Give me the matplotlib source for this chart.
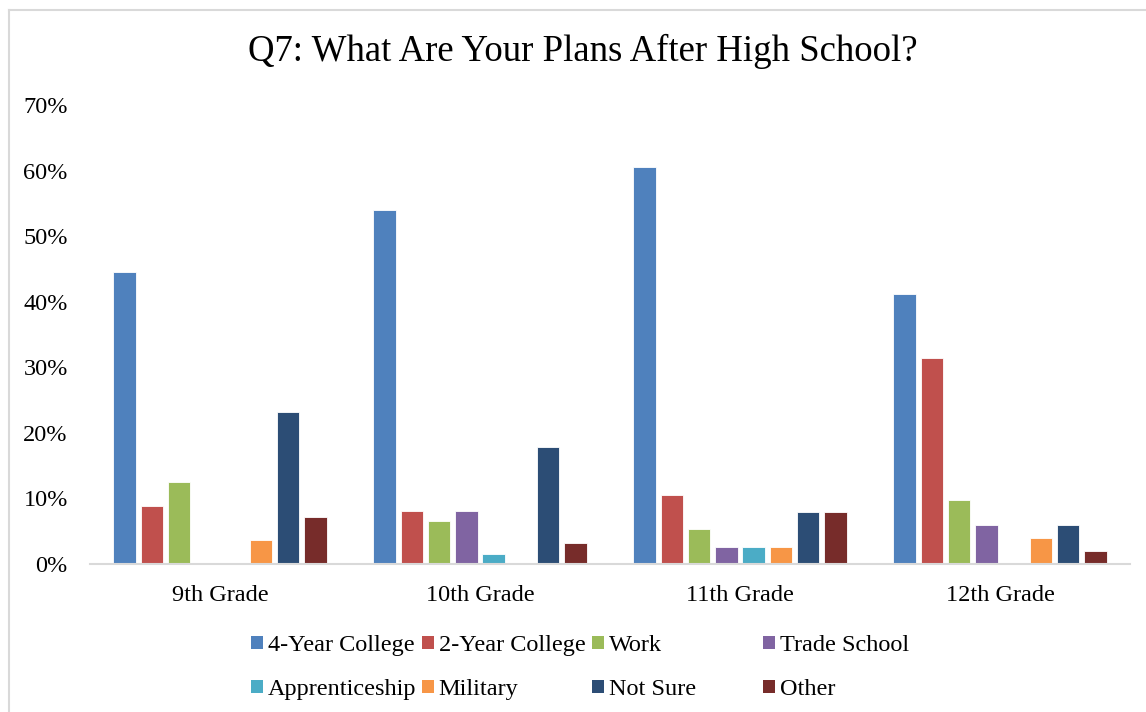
import numpy as np
import matplotlib.pyplot as plt
from matplotlib.patches import Patch
from matplotlib.lines import Line2D

plt.rcParams['font.family'] = ['Liberation Serif', 'DejaVu Serif']

grades = ['9th Grade', '10th Grade', '11th Grade', '12th Grade']
plans = ['4-Year College', '2-Year College', 'Work', 'Trade School',
         'Apprenticeship', 'Military', 'Not Sure', 'Other']
colors = ['#4f81bd', '#c0504d', '#9bbb59', '#8064a2',
          '#4bacc6', '#f79646', '#2c4d75', '#772c2a']

# percent of students per grade
four_year = [44.6, 54.0, 60.5, 41.2]
two_year = [8.9, 8.1, 10.5, 31.4]
work = [12.5, 6.5, 5.3, 9.8]
trade = [0.0, 8.1, 2.6, 5.9]
apprentice = [0.0, 1.6, 2.6, 0.0]
military = [3.6, 0.0, 2.6, 3.9]
not_sure = [23.2, 17.9, 7.9, 5.9]
other = [7.1, 3.2, 7.9, 2.0]
series = [four_year, two_year, work, trade, apprentice, military, not_sure, other]

fig = plt.figure(figsize=(11.46, 7.12), dpi=100)
W, H = 1146, 712
ax = fig.add_axes([90 / W, 1 - 564 / H, 1040 / W, (564 - 105) / H])

x = np.arange(len(grades))
step = 0.105
for i, (vals, c) in enumerate(zip(series, colors)):
    ax.bar(x + (i - 3.5) * step, vals, width=0.086, color=c,
           edgecolor='white', linewidth=0.6, label=plans[i])

ax.set_xlim(-0.5, 3.5)
ax.set_ylim(0, 70)
ax.set_yticks(range(0, 71, 10))
ax.set_yticklabels([f'{v}%' for v in range(0, 71, 10)], fontsize=17.5)
ax.set_xticks(x)
ax.set_xticklabels(grades, fontsize=17.5)
ax.tick_params(axis='x', length=0, pad=15)
ax.tick_params(axis='y', length=0, pad=16)
for s in ['top', 'right', 'left']:
    ax.spines[s].set_visible(False)
ax.spines['bottom'].set_color('#d9d9d9')
ax.spines['bottom'].set_linewidth(1.5)

fig.text(583 / W, 1 - 51 / H, 'Q7: What Are Your Plans After High School?',
         ha='center', va='center', fontsize=26.5)

# outer chart border (left and top visible)
fig.add_artist(Line2D([8.5 / W, 8.5 / W], [0, 1 - 9.5 / H], color='#d9d9d9', lw=1.5))
fig.add_artist(Line2D([8.5 / W, 1], [1 - 9.5 / H, 1 - 9.5 / H], color='#d9d9d9', lw=1.5))

# legend: four fixed-width columns of two entries each
col_x = [251, 422, 592, 763]
for j in range(4):
    idx = [j, j + 4]
    handles = [Patch(facecolor=colors[k]) for k in idx]
    fig.legend(handles, [plans[k] for k in idx], loc='upper left',
               bbox_to_anchor=(col_x[j] / W, 1 - 635 / H), frameon=False,
               fontsize=17.5, handlelength=0.48, handleheight=0.48,
               handletextpad=0.2, labelspacing=0.95, borderpad=0,
               borderaxespad=0)

fig.savefig('out.png', dpi=100)
